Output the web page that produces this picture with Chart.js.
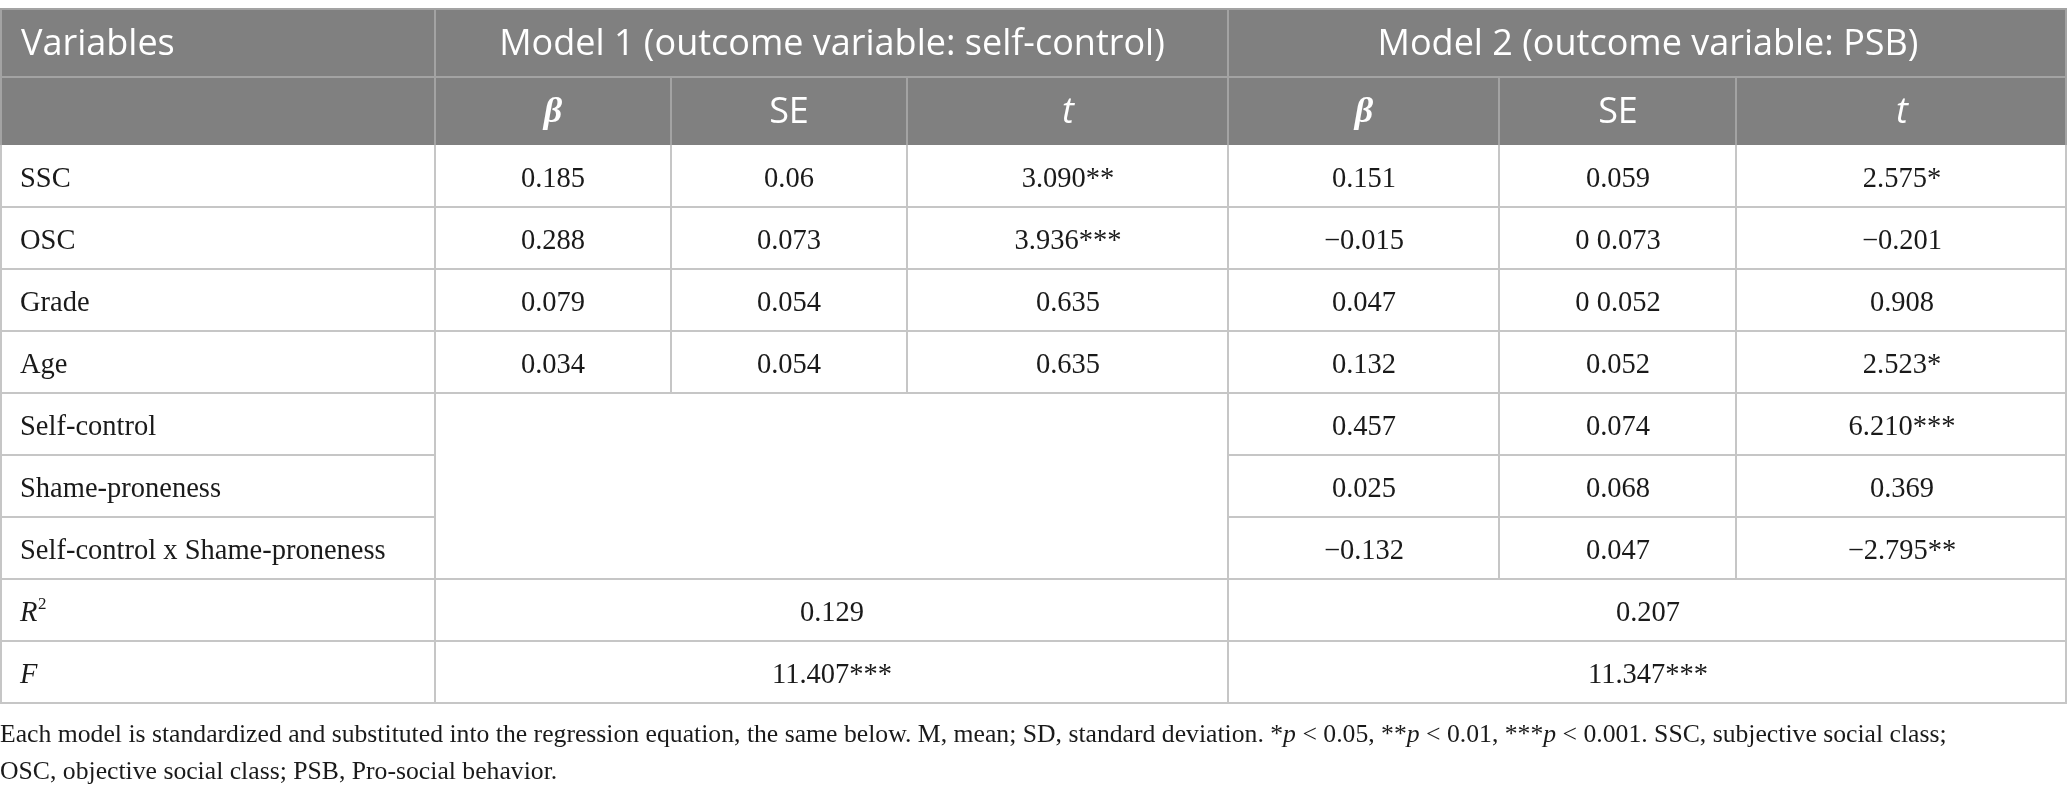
<!DOCTYPE html>
<html>
<head>
<meta charset="utf-8">
<script src="https://cdn.jsdelivr.net/npm/chart.js@4.4.1/dist/chart.umd.min.js"></script>
<style>
  html, body { margin: 0; padding: 0; background: #fff; }
  #wrap { position: relative; width: 2067px; height: 796px; }
</style>
</head>
<body>
<div id="wrap"><canvas id="tableChart"></canvas></div>
<script>
// table content
const groupHeaders = ['Model 1 (outcome variable: self-control)', 'Model 2 (outcome variable: PSB)'];
const subHeaders = ['β', 'SE', 't'];
const rowLabels = ['SSC', 'OSC', 'Grade', 'Age', 'Self-control', 'Shame-proneness', 'Self-control x Shame-proneness'];

const m1Beta = ['0.185', '0.288', '0.079', '0.034'];
const m1SE = ['0.06', '0.073', '0.054', '0.054'];
const m1T = ['3.090**', '3.936***', '0.635', '0.635'];

const m2Beta = ['0.151', '−0.015', '0.047', '0.132', '0.457', '0.025', '−0.132'];
const m2SE = ['0.059', '0 0.073', '0 0.052', '0.052', '0.074', '0.068', '0.047'];
const m2T = ['2.575*', '−0.201', '0.908', '2.523*', '6.210***', '0.369', '−2.795**'];

const r2Values = ['0.129', '0.207'];
const fValues = ['11.407***', '11.347***'];

const footnoteLines = [
  'Each model is standardized and substituted into the regression equation, the same below. M, mean; SD, standard deviation. *_p_ < 0.05, **_p_ < 0.01, ***_p_ < 0.001. SSC, subjective social class;',
  'OSC, objective social class; PSB, Pro-social behavior.'
];

// layout (scale units)
const colEdges = [0, 435, 671, 907, 1228, 1499, 1736, 2067];
const headTop = 9, headMid = 77, bodyTop = 145, rowH = 62;
const footY = [735, 772];

const headerBg = '#808080';
const headerLine = '#a3a3a3';
const bodyLine = '#c6c6c6';
const sansHead = '36px "Open Sans", "Noto Sans", sans-serif';
const serif = '"Liberation Serif", "DejaVu Serif", serif';

const tablePlugin = {
  id: 'tablePlugin',
  afterDraw(chart) {
    const c = chart.ctx;
    const xs = chart.scales.x, ys = chart.scales.y;
    const px = v => Math.round(xs.getPixelForValue(v));
    const py = v => Math.round(ys.getPixelForValue(v));
    const rowY = i => bodyTop + rowH * i;
    const nBody = rowLabels.length + 2;

    const hLine = (x0, x1, y, color) => {
      c.fillStyle = color;
      c.fillRect(px(x0), py(y) - 1, px(x1) - px(x0), 2);
    };
    const vLine = (x, y0, y1, color) => {
      c.fillStyle = color;
      c.fillRect(px(x) - 1, py(y0), 2, py(y1) - py(y0));
    };
    const text = (s, x, y, font, color, align) => {
      c.font = font;
      c.fillStyle = color;
      c.textAlign = align || 'center';
      c.textBaseline = 'middle';
      c.fillText(s, px(x), py(y));
    };
    const mid = (a, b) => (colEdges[a] + colEdges[b]) / 2;

    c.save();

    // header block
    c.fillStyle = headerBg;
    c.fillRect(px(0), py(headTop), px(colEdges[7]) - px(0), py(bodyTop) - py(headTop));
    hLine(0, colEdges[7], headTop, headerLine);
    hLine(0, colEdges[7], headMid, headerLine);
    vLine(colEdges[1], headTop, bodyTop, headerLine);
    vLine(colEdges[4], headTop, bodyTop, headerLine);
    [2, 3, 5, 6].forEach(k => vLine(colEdges[k], headMid, bodyTop, headerLine));
    vLine(1, headTop, bodyTop, headerLine);
    vLine(colEdges[7] - 1, headTop, bodyTop, headerLine);

    const h1y = (headTop + headMid) / 2 + 2, h2y = (headMid + bodyTop) / 2 + 2;
    text('Variables', 21, h1y, sansHead, '#fff', 'left');
    text(groupHeaders[0], mid(1, 4), h1y, sansHead, '#fff');
    text(groupHeaders[1], mid(4, 7), h1y, sansHead, '#fff');
    [1, 4].forEach(s => {
      text(subHeaders[0], mid(s, s + 1), h2y, 'italic bold 36px ' + serif, '#fff');
      text(subHeaders[1], mid(s + 1, s + 2), h2y, sansHead, '#fff');
      text(subHeaders[2], mid(s + 2, s + 3), h2y, 'italic ' + sansHead, '#fff');
    });

    // body grid
    for (let i = 1; i <= nBody; i++) {
      const y = rowY(i);
      if (i === 5 || i === 6) {
        hLine(0, colEdges[1], y, bodyLine);
        hLine(colEdges[4], colEdges[7], y, bodyLine);
      } else {
        hLine(0, colEdges[7], y, bodyLine);
      }
    }
    vLine(1, bodyTop, rowY(nBody), bodyLine);
    vLine(colEdges[7] - 1, bodyTop, rowY(nBody), bodyLine);
    vLine(colEdges[1], bodyTop, rowY(nBody), bodyLine);
    vLine(colEdges[4], bodyTop, rowY(nBody), bodyLine);
    [2, 3].forEach(k => vLine(colEdges[k], bodyTop, rowY(m1Beta.length), bodyLine));
    [5, 6].forEach(k => vLine(colEdges[k], bodyTop, rowY(rowLabels.length), bodyLine));

    // body text
    const bodyFont = '28.5px ' + serif;
    const ink = '#1a1a1a';
    const dy = rowH / 2 + 4;
    rowLabels.forEach((lab, i) => {
      const y = rowY(i) + dy;
      text(lab, 20, y, bodyFont, ink, 'left');
      if (i < m1Beta.length) {
        text(m1Beta[i], mid(1, 2), y, bodyFont, ink);
        text(m1SE[i], mid(2, 3), y, bodyFont, ink);
        text(m1T[i], mid(3, 4), y, bodyFont, ink);
      }
      text(m2Beta[i], mid(4, 5), y, bodyFont, ink);
      text(m2SE[i], mid(5, 6), y, bodyFont, ink);
      text(m2T[i], mid(6, 7), y, bodyFont, ink);
    });

    const r2y = rowY(rowLabels.length) + dy;
    const fy = rowY(rowLabels.length + 1) + dy;
    text('R', 20, r2y, 'italic 28.5px ' + serif, ink, 'left');
    c.font = 'italic 28.5px ' + serif;
    const rw = c.measureText('R').width;
    text('2', 20 + rw + 1, r2y - 9, '17px ' + serif, ink, 'left');
    text(r2Values[0], mid(1, 4), r2y, bodyFont, ink);
    text(r2Values[1], mid(4, 7), r2y, bodyFont, ink);
    text('F', 20, fy, 'italic 28.5px ' + serif, ink, 'left');
    text(fValues[0], mid(1, 4), fy, bodyFont, ink);
    text(fValues[1], mid(4, 7), fy, bodyFont, ink);

    // footnote with italic p markers
    footnoteLines.forEach((line, li) => {
      let x = px(0);
      const y = py(footY[li]);
      line.split('_').forEach((part, k) => {
        c.font = (k % 2 ? 'italic ' : '') + '25.7px ' + serif;
        c.fillStyle = ink;
        c.textAlign = 'left';
        c.textBaseline = 'middle';
        c.fillText(part, x, y);
        x += c.measureText(part).width;
      });
    });

    c.restore();
  }
};

new Chart(document.getElementById('tableChart'), {
  type: 'scatter',
  data: { datasets: [{ data: [], pointRadius: 0 }] },
  options: {
    responsive: true,
    maintainAspectRatio: false,
    animation: false,
    layout: { padding: 0 },
    scales: {
      x: { type: 'linear', min: 0, max: 2067, display: false },
      y: { type: 'linear', min: 0, max: 796, reverse: true, display: false }
    },
    plugins: { legend: { display: false }, tooltip: { enabled: false } }
  },
  plugins: [tablePlugin]
});
</script>
</body>
</html>
